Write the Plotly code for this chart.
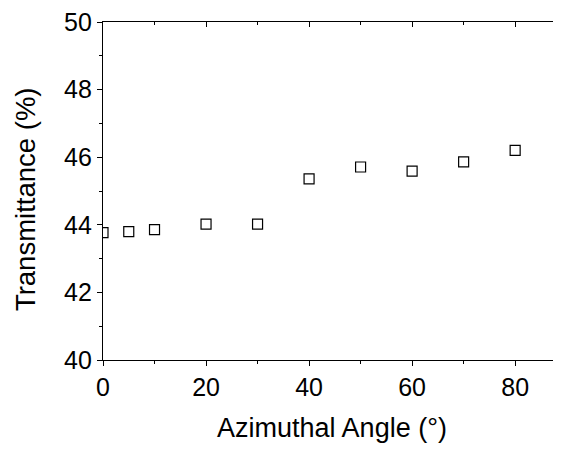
import plotly.graph_objects as go

angles = [0, 5, 10, 20, 30, 40, 50, 60, 70, 80]
transmittance = [43.77, 43.80, 43.86, 44.02, 44.02, 45.36, 45.71, 45.59, 45.86, 46.20]

x_range = [0, 88.9]
y_range = [40, 50]
FONT = "Liberation Sans, Arial, sans-serif"

fig = go.Figure()
fig.add_trace(go.Scatter(
    x=angles, y=transmittance, mode="markers",
    marker=dict(symbol="square-open", size=10, color="black", line=dict(width=1.2, color="black")),
    cliponaxis=True, showlegend=False,
))

fig.update_layout(
    width=553, height=435,
    margin=dict(l=95, r=0, t=12, b=83),
    paper_bgcolor="white", plot_bgcolor="white",
    font=dict(family=FONT, size=25, color="black"),
    xaxis=dict(
        range=x_range, showgrid=False, zeroline=False,
        showline=True, linecolor="black", linewidth=1.3,
        ticks="outside", ticklen=5, tickwidth=1.3, tickcolor="black",
        tick0=0, dtick=20, ticklabeloverflow="allow",
        minor=dict(ticks="outside", ticklen=3, tickwidth=1.3, tickcolor="black", dtick=10, tick0=0),
        title=dict(text="Azimuthal Angle (°)", standoff=18, font=dict(family=FONT, size=27)),
        tickfont=dict(family=FONT, size=25),
    ),
    yaxis=dict(
        range=y_range, showgrid=False, zeroline=False,
        showline=True, linecolor="black", linewidth=1.3,
        ticks="outside", ticklen=5, tickwidth=1.3, tickcolor="black",
        tick0=40, dtick=2, ticklabeloverflow="allow",
        minor=dict(ticks="outside", ticklen=3, tickwidth=1.3, tickcolor="black", dtick=1, tick0=40),
        tickfont=dict(family=FONT, size=25),
    ),
    xaxis2=dict(
        overlaying="x", side="top", anchor="y", range=x_range,
        showgrid=False, zeroline=False, showticklabels=False,
        showline=True, linecolor="black", linewidth=1.3,
        ticks="inside", ticklen=5, tickwidth=1.3, tickcolor="black",
        tick0=0, dtick=20,
        minor=dict(ticks="inside", ticklen=3, tickwidth=1.3, tickcolor="black", dtick=10, tick0=0),
    ),
    yaxis2=dict(
        overlaying="y", side="right", anchor="x", range=y_range,
        showgrid=False, zeroline=False, showticklabels=False, showline=False,
        ticks="inside", ticklen=5, tickwidth=1.5, tickcolor="black",
        tick0=40, dtick=2,
    ),
    annotations=[dict(
        text="Transmittance (%)", textangle=-90, showarrow=False,
        xref="paper", x=0, xshift=-78, xanchor="center",
        yref="y domain", y=0.476, yanchor="middle",
        font=dict(family=FONT, size=27.5, color="black"),
    )],
)
fig.add_trace(go.Scatter(x=[None], y=[None], xaxis="x2", yaxis="y2", showlegend=False, hoverinfo="skip"))

fig.write_html("out.html")
